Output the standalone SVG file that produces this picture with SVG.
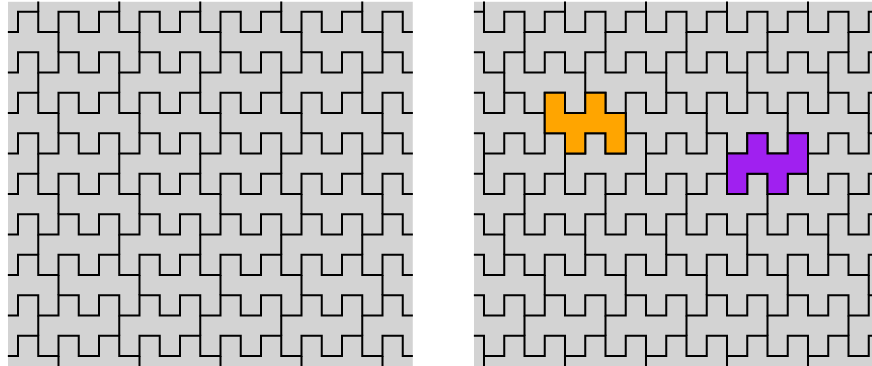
<svg xmlns="http://www.w3.org/2000/svg" xmlns:xlink="http://www.w3.org/1999/xlink" width="872" height="366" viewBox="0 0 872 366">
<style>
.bg{fill:#d3d3d3;stroke:none}
.ln{fill:none;stroke:#000;stroke-width:0.1;stroke-linejoin:miter}
.tile{stroke:#000;stroke-width:0.1;stroke-linejoin:miter}
</style>
<defs>
<path id="wave" d="M-2 0h1v1h1v-1h1v1h1v-1h1v1h1v-1h1v1h1v-1h1v1h1v-1h1v1h1v-1h1v1h1v-1h1v1h1v-1h1v1h1v-1h1v1h1v-1h1v1h1v-1h1v1h1v-1h1v1h1v-1h1v1h1v-1"/>
<path id="sep" d="M-4 0v1M0 0v1M4 0v1M8 0v1M12 0v1M16 0v1M20 0v1M24 0v1"/>
<clipPath id="cl"><rect x="-0.5" y="-0.5" width="20" height="18"/></clipPath>
<clipPath id="cr"><rect x="0.5" y="-0.5" width="20" height="18"/></clipPath>
</defs>
<g id="left-panel" transform="matrix(20.25 0 0 20.25 18 11.7)" clip-path="url(#cl)">
<rect class="bg" x="-0.5" y="-0.5" width="20" height="18"/>
<g class="ln">
<use xlink:href="#wave" y="0"/><use xlink:href="#wave" y="2"/><use xlink:href="#wave" y="4"/>
<use xlink:href="#wave" y="6"/><use xlink:href="#wave" y="8"/><use xlink:href="#wave" y="10"/>
<use xlink:href="#wave" y="12"/><use xlink:href="#wave" y="14"/><use xlink:href="#wave" y="16"/>
<use xlink:href="#sep" x="1" y="-1"/><use xlink:href="#sep" x="2" y="1"/>
<use xlink:href="#sep" x="1" y="3"/><use xlink:href="#sep" x="2" y="5"/>
<use xlink:href="#sep" x="1" y="7"/><use xlink:href="#sep" x="2" y="9"/>
<use xlink:href="#sep" x="1" y="11"/><use xlink:href="#sep" x="2" y="13"/>
<use xlink:href="#sep" x="1" y="15"/><use xlink:href="#sep" x="2" y="17"/>
</g>
</g>
<g id="right-panel" transform="matrix(20.25 0 0 20.25 463.75 11.7)" clip-path="url(#cr)">
<rect class="bg" x="0.5" y="-0.5" width="20" height="18"/>
<g class="ln">
<use xlink:href="#wave" y="0"/><use xlink:href="#wave" y="2"/><use xlink:href="#wave" y="4"/>
<use xlink:href="#wave" y="6"/><use xlink:href="#wave" y="8"/><use xlink:href="#wave" y="10"/>
<use xlink:href="#wave" y="12"/><use xlink:href="#wave" y="14"/><use xlink:href="#wave" y="16"/>
<use xlink:href="#sep" x="1" y="-1"/><use xlink:href="#sep" x="3" y="1"/>
<use xlink:href="#sep" x="2" y="3"/><use xlink:href="#sep" x="0" y="5"/>
<use xlink:href="#sep" x="1" y="7"/><use xlink:href="#sep" x="3" y="9"/>
<use xlink:href="#sep" x="2" y="11"/><use xlink:href="#sep" x="0" y="13"/>
<use xlink:href="#sep" x="3" y="15"/><use xlink:href="#sep" x="1" y="17"/>
</g>
<path id="tile-orange" class="tile" fill="#ffa500" d="M4 4h1v1h1v-1h1v1h1v2h-1v-1h-1v1h-1v-1h-1z"/>
<path id="tile-purple" class="tile" fill="#a020f0" d="M13 7h1v-1h1v1h1v-1h1v2h-1v1h-1v-1h-1v1h-1z"/>
</g>
</svg>
